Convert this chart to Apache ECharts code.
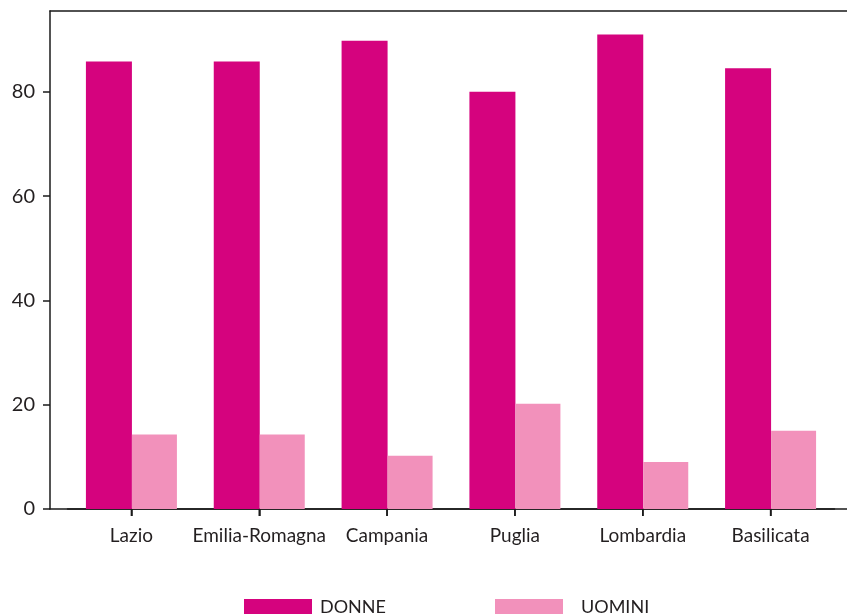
<!DOCTYPE html>
<html>
<head>
<meta charset="utf-8">
<script src="https://cdn.jsdelivr.net/npm/echarts@6/dist/echarts.min.js"></script>
<style>html,body{margin:0;padding:0;background:#fff;overflow:hidden}#c{width:847px;height:614px}</style>
</head>
<body>
<div id="c"></div>
<script>
const categories = ['Lazio', 'Emilia-Romagna', 'Campania', 'Puglia', 'Lombardia', 'Basilicata'];
const donne = [85.8, 85.8, 89.8, 80.0, 91.0, 84.5];
const uomini = [14.3, 14.3, 10.2, 20.2, 9.0, 15.0];
const seriesNames = ['DONNE', 'UOMINI'];
const yTicks = { min: 0, max: 95.5, interval: 20 };

const FONT = 'Lato';
const TXT = '#231F20';
const LINE = () => ({ color: '#1a1a1a', width: 1.5 });
const C1 = '#D5037E', C2 = '#F291BB';

const chart = echarts.init(document.getElementById('c'), null, { renderer: 'canvas' });
chart.setOption({
  animation: false,
  backgroundColor: '#fff',
  grid: [
    { left: 67.5, right: 12.5, top: 11, bottom: 105, outerBoundsMode: 'none', containLabel: false },
    { left: 50, right: 0, top: 11, bottom: 105, outerBoundsMode: 'none', containLabel: false }
  ],
  xAxis: [
    { gridIndex: 0, type: 'category', data: categories, position: 'bottom',
      axisLine: { show: true, onZero: false, lineStyle: LINE() },
      axisTick: { show: true, interval: 0, alignWithLabel: true, length: 7, lineStyle: LINE() },
      axisLabel: { interval: 0, color: TXT, fontFamily: FONT, fontSize: 19, margin: 17 } },
    { gridIndex: 1, type: 'category', data: [''], position: 'bottom',
      axisLine: { show: true, onZero: false, lineStyle: LINE() },
      axisTick: { show: false }, axisLabel: { show: false } },
    { gridIndex: 1, type: 'category', data: [''], position: 'top',
      axisLine: { show: true, onZero: false, lineStyle: LINE() },
      axisTick: { show: false }, axisLabel: { show: false } }
  ],
  yAxis: [
    { gridIndex: 0, type: 'value', min: yTicks.min, max: yTicks.max, interval: yTicks.interval, offset: 17.5,
      axisLine: { show: true, lineStyle: LINE() },
      axisTick: { show: true, length: 7, lineStyle: LINE() },
      axisLabel: { color: TXT, fontFamily: FONT, fontSize: 20, margin: 15,
        showMaxLabel: false },
      splitLine: { show: false } },
    { gridIndex: 1, type: 'value', min: 0, max: 1, show: false, splitLine: { show: false } }
  ],
  legend: [
    { data: [seriesNames[0]], left: 244, top: 598, padding: 0, itemWidth: 68, itemHeight: 16,
      icon: 'rect', textStyle: { color: TXT, fontFamily: FONT, fontSize: 18, padding: [0, 0, 0, 3] } },
    { data: [seriesNames[1]], left: 495, top: 598, padding: 0, itemWidth: 68, itemHeight: 16,
      icon: 'rect', textStyle: { color: TXT, fontFamily: FONT, fontSize: 18, padding: [0, 0, 0, 13] } }
  ],
  series: [
    { name: seriesNames[0], type: 'bar', xAxisIndex: 0, yAxisIndex: 0, data: donne,
      barWidth: 46, barGap: '0%', itemStyle: { color: C1 } },
    { name: seriesNames[1], type: 'bar', xAxisIndex: 0, yAxisIndex: 0, data: uomini,
      barWidth: 45, barGap: '0%', itemStyle: { color: C2 } },
    { name: 'ticks', type: 'custom', xAxisIndex: 0, yAxisIndex: 0, z: 10, silent: true, clip: false,
      data: categories.map((c, i) => [i, 0]),
      renderItem: function (params, api) {
        const p = api.coord([api.value(0), api.value(1)]);
        return { type: 'line', z2: 100, shape: { x1: p[0], y1: p[1], x2: p[0], y2: p[1] + 7 },
                 style: { stroke: '#1a1a1a', lineWidth: 1.5 } };
      } }
  ]
});
</script>
</body>
</html>
